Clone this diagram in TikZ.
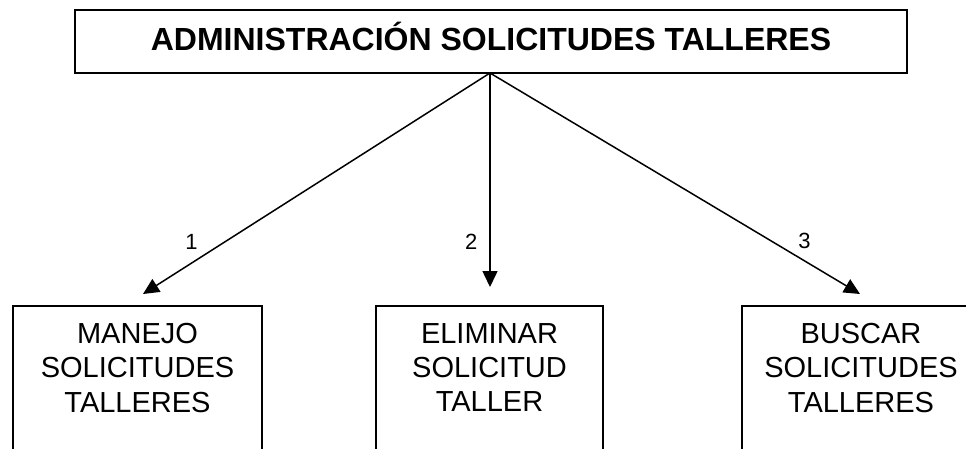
\documentclass[tikz,border=0pt]{standalone}
\usepackage{fontspec}
\setmainfont{Liberation Sans}
\usetikzlibrary{arrows.meta, positioning}

\begin{document}
\begin{tikzpicture}[x=1pt, y=-1pt,
  titulo/.style={draw, line width=2pt, minimum width=832pt, minimum height=63pt, inner sep=0pt, text height=23pt, text depth=6pt, font=\fontsize{32}{38}\selectfont\bfseries},
  caja/.style={draw, line width=2pt, anchor=north, minimum height=160pt, inner sep=0pt},
  texto/.style={anchor=north, align=center, inner sep=0pt, font=\fontsize{29}{34.3}\selectfont},
  flecha/.style={line width=1.5pt, -{Triangle[length=16pt, width=15pt]}},
  etiqueta/.style={inner sep=0pt, font=\fontsize{22}{26}\selectfont}
]
  \clip (0,0) rectangle (966,448);
  \useasboundingbox (0,0) rectangle (966,448);

  \node[titulo] (admin) at (491,41.5) {ADMINISTRACIÓN SOLICITUDES TALLERES};

  \node[caja, minimum width=249pt] (manejo) at (137.5,305) {};
  \node[caja, minimum width=227pt] (eliminar) at (489.5,305) {};
  \node[caja, minimum width=238pt] (buscar) at (861,305) {};

  \node[texto, below=18pt of manejo.north] (manejoT) {MANEJO\\SOLICITUDES\\TALLERES};
  \node[texto, below=18pt of eliminar.north] (eliminarT) {ELIMINAR\\SOLICITUD\\TALLER};
  \node[texto, below=18pt of buscar.north] (buscarT) {BUSCAR\\SOLICITUDES\\TALLERES};

  % puntas de las flechas
  \coordinate (origen) at (490,73);
  \coordinate (p1) at (143,294);
  \coordinate (p2) at (490,287);
  \coordinate (p3) at (860,294);

  \draw[flecha] (origen) -- (p1) node[etiqueta, pos=0.86, above=13pt] {1};
  \draw[flecha] (origen) -- (p2) node[etiqueta, pos=0.79, left=12pt] {2};
  \draw[flecha] (origen) -- (p3) node[etiqueta, pos=0.85, above=11pt] {3};
\end{tikzpicture}
\end{document}
